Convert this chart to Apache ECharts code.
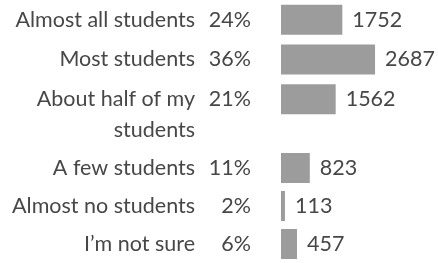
<!DOCTYPE html>
<html>
<head>
<meta charset="utf-8">
<script src="https://cdn.jsdelivr.net/npm/echarts@6/dist/echarts.min.js"></script>
<style>
  html, body { margin: 0; padding: 0; background: #fff; }
  #chart { width: 438px; height: 263px; }
</style>
</head>
<body>
<div id="chart"></div>
<script>
// answers, share and count of respondents
const categories = ['Almost all students', 'Most students', 'About half of my\nstudents', 'A few students', 'Almost no students', 'I\u2019m not sure']
const percents = ['24%', '36%', '21%', '11%', '2%', '6%']
const counts = [1752, 2687, 1562, 823, 113, 457]

const font = 'Lato, "Noto Sans", sans-serif'
const fontSize = 21.5
const textColor = '#474747'
const barColor = '#9c9c9c'

const myChart = echarts.init(document.getElementById('chart'))

// the wrapped label pushes the last three rows down, so use two grids
const groups = [[0, 3], [3, 6]]

function makeLabel(value) {
  const i = categories.indexOf(value)
  const lines = value.split('\n')
  if (lines.length === 1) {
    return '{name|' + lines[0] + '}{pct|' + percents[i] + '}'
  }
  // blank first line keeps the first text line on the bar centre
  return '{name| }{pct| }\n{name|' + lines[0] + '}{pct|' + percents[i] + '}\n{name|' + lines[1] + '}{pct| }'
}

const option = {
  animation: false,
  grid: [
    { left: 281, top: -1, height: 120, width: 105 },
    { left: 281, top: 149, height: 120, width: 105 }
  ],
  xAxis: groups.map((g, k) => ({
    type: 'value',
    gridIndex: k,
    min: 0,
    max: 3000,
    show: false
  })),
  yAxis: groups.map((g, k) => ({
    type: 'category',
    gridIndex: k,
    inverse: true,
    data: categories.slice(g[0], g[1]),
    axisLine: { show: false },
    axisTick: { show: false },
    splitLine: { show: false },
    axisLabel: {
      interval: 0,
      hideOverlap: false,
      margin: 30,
      lineHeight: 31,
      formatter: makeLabel,
      rich: {
        name: { fontFamily: font, fontSize: fontSize, color: textColor, lineHeight: 31 },
        pct: { fontFamily: font, fontSize: fontSize, color: textColor, lineHeight: 31, width: 56, align: 'right' }
      }
    }
  })),
  series: groups.map((g, k) => ({
    type: 'bar',
    xAxisIndex: k,
    yAxisIndex: k,
    barWidth: 30,
    data: counts.slice(g[0], g[1]),
    itemStyle: { color: barColor },
    label: {
      show: true,
      position: 'right',
      distance: 10,
      fontFamily: font,
      fontSize: fontSize,
      color: textColor
    }
  }))
}

myChart.setOption(option)
window.addEventListener('resize', function() {
  myChart.resize()
})
</script>
</body>
</html>
